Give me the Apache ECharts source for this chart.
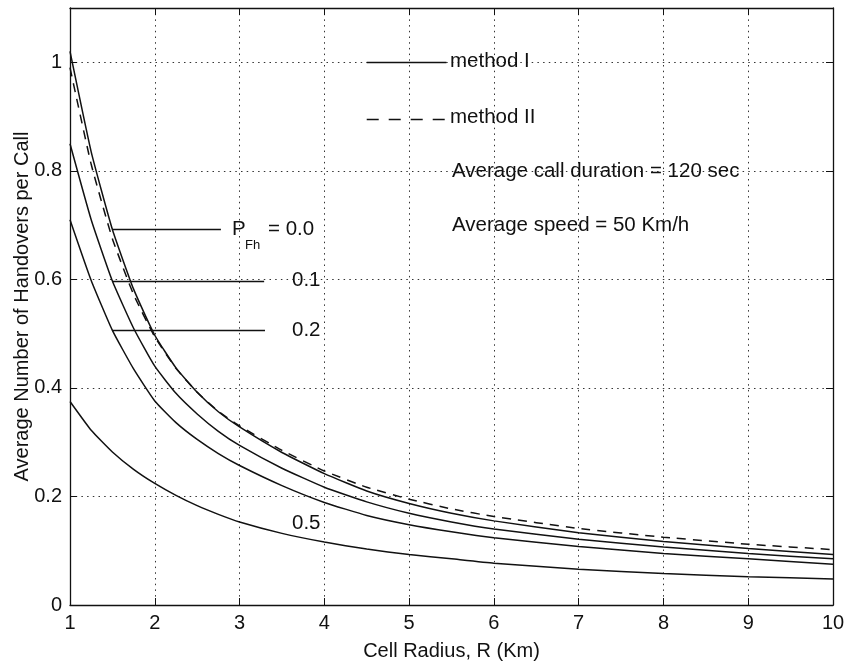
<!DOCTYPE html>
<html>
<head>
<meta charset="utf-8">
<title>Handovers per call</title>
<script src="https://cdn.jsdelivr.net/npm/echarts@6/dist/echarts.min.js"></script>
<style>
  html, body { margin: 0; padding: 0; background: #fff; }
  #chart { width: 845px; height: 661px; }
</style>
</head>
<body>
<div id="chart"></div>
<script>
/*
 * 数据
 */
var radius = [1, 1.25, 1.5, 1.75, 2, 2.25, 2.5, 2.75, 3, 3.5, 4, 4.5, 5, 5.5, 6, 7, 8, 9, 10];

var methodI_p00 = [1.02, 0.835, 0.692, 0.582, 0.497, 0.437, 0.392, 0.356, 0.328, 0.281, 0.242, 0.210, 0.187, 0.169, 0.155, 0.133, 0.117, 0.104, 0.093];
var methodII_p00 = [0.99, 0.812, 0.675, 0.572, 0.494, 0.436, 0.392, 0.357, 0.330, 0.285, 0.247, 0.217, 0.195, 0.177, 0.163, 0.141, 0.125, 0.112, 0.102];
var methodI_p01 = [0.85, 0.71, 0.597, 0.510, 0.440, 0.390, 0.352, 0.320, 0.294, 0.252, 0.217, 0.190, 0.169, 0.153, 0.140, 0.121, 0.107, 0.095, 0.085];
var methodI_p02 = [0.71, 0.598, 0.506, 0.435, 0.376, 0.336, 0.305, 0.279, 0.257, 0.220, 0.189, 0.165, 0.148, 0.135, 0.124, 0.108, 0.095, 0.085, 0.075];
var methodI_p05 = [0.375, 0.322, 0.282, 0.250, 0.224, 0.202, 0.183, 0.167, 0.153, 0.132, 0.116, 0.103, 0.093, 0.085, 0.077, 0.066, 0.058, 0.052, 0.048];

// pointer lines to the P_Fh labels
var pointerY = [0.692, 0.597, 0.506];
var pointerFrom = 1.5;
var pointerTo = [2.78, 3.29, 3.30];

// legend key lines (method I solid, method II dashed)
var keyY = [1.0, 0.895];
var keyFrom = 4.5, keyTo = 5.44;

var xTicks = { min: 1, max: 10, interval: 1 };
var yTicks = { min: 0, max: 1.1, interval: 0.2 };

var FONT = '"Liberation Sans", Arial, Helvetica, sans-serif';
var INK = '#111';

var pairs = function (ys) {
    var res = [];
    for (var i = 0; i < radius.length; i++) {
        res.push([radius[i], ys[i]]);
    }
    return res;
};

var curve = function (name, ys, dashed) {
    return {
        name: name,
        type: 'line',
        data: pairs(ys),
        smooth: 0.15,
        showSymbol: false,
        symbol: 'none',
        lineStyle: {
            color: INK,
            width: 1.5,
            type: dashed ? [9, 7] : 'solid'
        },
        z: 3
    };
};

var segs = function (ys, from, to) {
    var res = [];
    for (var i = 0; i < ys.length; i++) {
        var end = Array.isArray(to) ? to[i] : to;
        res.push([{ coord: [from, ys[i]] }, { coord: [end, ys[i]] }]);
    }
    return res;
};

// text placed by its vertical centre
var txt = function (x, cy, s, size) {
    size = size || 20.5;
    return {
        type: 'text',
        left: x,
        top: cy - size / 2 - 1,
        style: {
            text: s,
            fill: INK,
            font: size + 'px ' + FONT
        },
        z: 10
    };
};

var axisBox = {
    onZero: false,
    lineStyle: { color: INK, width: 1.3 }
};
var tickIn = {
    inside: true,
    length: 7,
    lineStyle: { color: INK, width: 1 }
};
var gridDots = {
    show: true,
    lineStyle: { color: '#333', width: 1, type: [1.5, 4.2] }
};
var labelFont = { fontFamily: FONT, fontSize: 20, color: INK };

var option = {
    animation: false,
    backgroundColor: '#fff',
    grid: {
        left: 70,
        right: 12,
        top: 8,
        bottom: 56,
        containLabel: false,
        outerBoundsMode: 'none'
    },
    xAxis: [{
        type: 'value',
        min: xTicks.min,
        max: xTicks.max,
        interval: xTicks.interval,
        position: 'bottom',
        name: 'Cell Radius, R (Km)',
        nameLocation: 'middle',
        nameGap: 36,
        nameMoveOverlap: false,
        nameTextStyle: labelFont,
        axisLine: axisBox,
        axisTick: tickIn,
        axisLabel: { fontFamily: FONT, fontSize: 20, color: INK, margin: 8 },
        splitLine: gridDots
    }, {
        type: 'value',
        min: xTicks.min,
        max: xTicks.max,
        interval: xTicks.interval,
        position: 'top',
        axisLine: axisBox,
        axisTick: tickIn,
        axisLabel: { show: false },
        splitLine: { show: false }
    }],
    yAxis: [{
        type: 'value',
        min: yTicks.min,
        max: yTicks.max,
        interval: yTicks.interval,
        position: 'left',
        name: 'Average Number of Handovers per Call',
        nameLocation: 'middle',
        nameGap: 38,
        nameMoveOverlap: false,
        nameTextStyle: labelFont,
        axisLine: axisBox,
        axisTick: tickIn,
        axisLabel: {
            fontFamily: FONT, fontSize: 20, color: INK, margin: 8,
            showMaxLabel: false,
            formatter: function (v) {
                return Math.abs(v * 5 - Math.round(v * 5)) < 1e-6 ? String(+v.toFixed(1)) : '';
            }
        },
        splitLine: gridDots
    }, {
        type: 'value',
        min: yTicks.min,
        max: yTicks.max,
        interval: yTicks.interval,
        position: 'right',
        axisLine: axisBox,
        axisTick: tickIn,
        axisLabel: { show: false },
        splitLine: { show: false }
    }],
    series: [
        curve('method I, P=0.0', methodI_p00, false),
        curve('method II, P=0.0', methodII_p00, true),
        curve('method I, P=0.1', methodI_p01, false),
        curve('method I, P=0.2', methodI_p02, false),
        curve('method I, P=0.5', methodI_p05, false),
        {
            name: 'annotations',
            type: 'line',
            data: [],
            markLine: {
                silent: true,
                symbol: ['none', 'none'],
                label: { show: false },
                lineStyle: { color: INK, width: 1.3, type: 'solid' },
                data: segs(pointerY, pointerFrom, pointerTo)
                    .concat(segs([keyY[0]], keyFrom, keyTo))
            }
        },
        {
            name: 'key dashed',
            type: 'line',
            data: [],
            markLine: {
                silent: true,
                symbol: ['none', 'none'],
                label: { show: false },
                lineStyle: { color: INK, width: 1.3, type: [12, 10] },
                data: segs([keyY[1]], keyFrom, keyTo)
            }
        }
    ],
    graphic: [
        txt(450, 62, 'method I'),
        txt(450, 118, 'method II'),
        txt(452, 172, 'Average call duration = 120 sec'),
        txt(452, 226, 'Average speed = 50 Km/h'),
        txt(232, 230, 'P'),
        txt(245, 246, 'Fh', 13),
        txt(268, 230, '= 0.0'),
        txt(292, 281, '0.1'),
        txt(292, 331, '0.2'),
        txt(292, 524, '0.5')
    ]
};

var chart = echarts.init(document.getElementById('chart'));
chart.setOption(option);
</script>
</body>
</html>
